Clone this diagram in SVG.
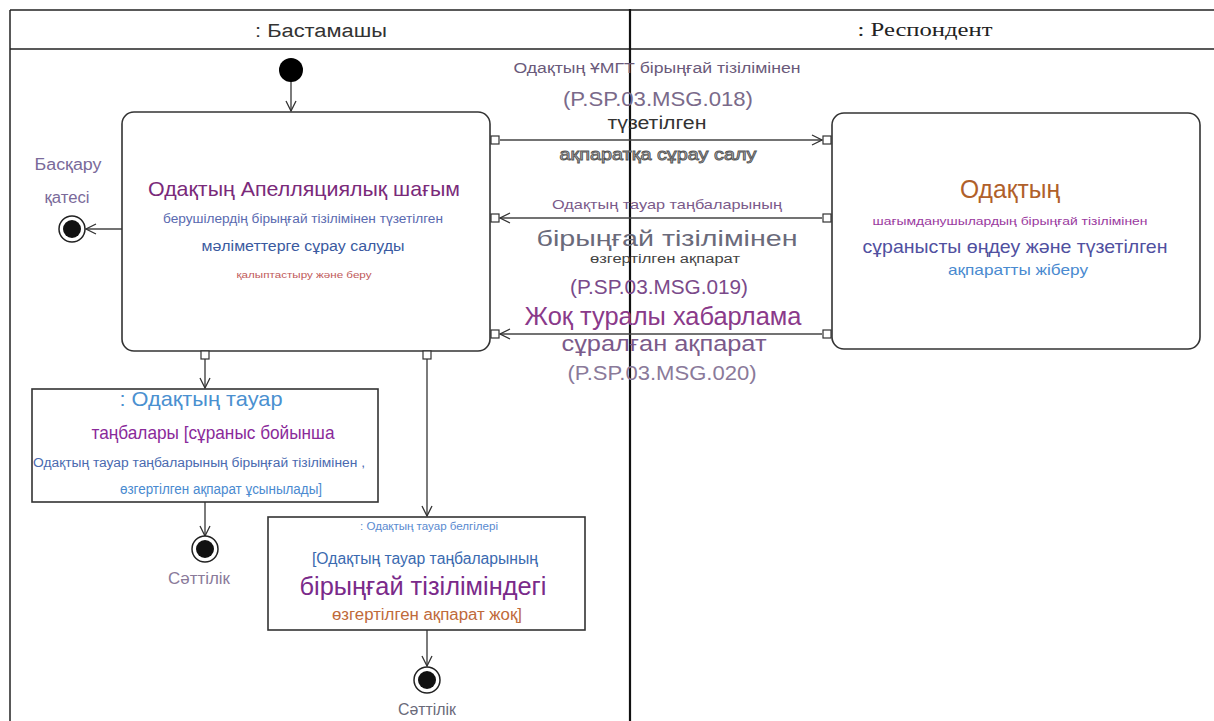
<svg xmlns="http://www.w3.org/2000/svg" width="1214" height="721" viewBox="0 0 1214 721">
<defs>
<marker id="arr" viewBox="0 0 12 12" refX="11" refY="6" markerWidth="12" markerHeight="12" markerUnits="userSpaceOnUse" orient="auto">
<path d="M1,1 L11,6 L1,11" fill="none" stroke="#333" stroke-width="1.3"/>
</marker>
</defs>
<style>
text{font-family:"Liberation Sans",Arial,sans-serif;text-anchor:middle}
.serif{font-family:"Liberation Serif","Times New Roman",serif}
.frame{fill:none;stroke:#222;stroke-width:1.5}
.box{fill:#fff;stroke:#333;stroke-width:1.6}
.port{fill:#fff;stroke:#333;stroke-width:1.2}
.flow{fill:none;stroke:#444;stroke-width:1.4;marker-end:url(#arr)}
.fin-o{fill:#fff;stroke:#222;stroke-width:1.5}
.fin-i{fill:#111}
</style>
<rect width="1214" height="721" fill="#fff"/>
<g id="lanes">
<line class="frame" x1="10" y1="10" x2="1214" y2="10"/>
<line class="frame" x1="10" y1="49" x2="1214" y2="49"/>
<line class="frame" x1="10" y1="10" x2="10" y2="721"/>
<line x1="630" y1="9" x2="630" y2="721" stroke="#111" stroke-width="2.2"/>
<text x="321" y="37" font-size="18" fill="#333" textLength="132" lengthAdjust="spacingAndGlyphs">: Бастамашы</text>
<text class="serif" x="925" y="36" font-size="18" fill="#222" textLength="135" lengthAdjust="spacingAndGlyphs">: Респондент</text>
</g>
<g id="connectors">
<line class="flow" x1="291" y1="81" x2="291" y2="111"/>
<line class="flow" x1="500" y1="140" x2="822" y2="140"/>
<line class="flow" x1="822" y1="218" x2="500" y2="218"/>
<line class="flow" x1="822" y1="334" x2="500" y2="334"/>
<line class="flow" x1="122" y1="229" x2="86" y2="229"/>
<line class="flow" x1="205" y1="359" x2="205" y2="388"/>
<line class="flow" x1="427" y1="359" x2="427" y2="516"/>
<line class="flow" x1="205" y1="502" x2="205" y2="536"/>
<line class="flow" x1="427" y1="630" x2="427" y2="666"/>
</g>
<g id="msg-labels">
<text x="657" y="73" font-size="14" fill="#6a5a7a" textLength="287" lengthAdjust="spacingAndGlyphs">Одақтың ҰМГТ бірыңғай тізілімінен</text>
<text x="658" y="106" font-size="21" fill="#7a6a8a" textLength="190" lengthAdjust="spacingAndGlyphs">(P.SP.03.MSG.018)</text>
<text x="657" y="129" font-size="18" fill="#333" textLength="99" lengthAdjust="spacingAndGlyphs">түзетілген</text>
<text x="658" y="160" font-size="17" fill="#ccc" stroke="#555" stroke-width="0.9" textLength="197" lengthAdjust="spacingAndGlyphs">ақпаратқа сұрау салу</text>
<text x="667" y="209" font-size="13" fill="#7a5a8a" textLength="230" lengthAdjust="spacingAndGlyphs">Одақтың тауар таңбаларының</text>
<text x="667" y="246" font-size="22" fill="#6a6a7a" textLength="261" lengthAdjust="spacingAndGlyphs">бірыңғай тізілімінен</text>
<text x="665" y="263" font-size="12" fill="#444" textLength="150" lengthAdjust="spacingAndGlyphs">өзгертілген ақпарат</text>
<text x="659" y="294" font-size="21" fill="#7a4a8a" textLength="178" lengthAdjust="spacingAndGlyphs">(P.SP.03.MSG.019)</text>
<text x="663" y="325" font-size="25" fill="#8a3a8a" textLength="277" lengthAdjust="spacingAndGlyphs">Жоқ туралы хабарлама</text>
<text x="664" y="351" font-size="22" fill="#7a5a8a" textLength="205" lengthAdjust="spacingAndGlyphs">сұралған ақпарат</text>
<text x="662" y="380" font-size="20" fill="#8a7a9a" textLength="189" lengthAdjust="spacingAndGlyphs">(P.SP.03.MSG.020)</text>
</g>
<g id="initial">
<circle cx="291" cy="70" r="12" fill="#000"/>
</g>
<g id="main-action">
<rect class="box" x="122" y="112" width="368" height="239" rx="12"/>
<rect class="port" x="491" y="136" width="8" height="8"/>
<rect class="port" x="491" y="214" width="8" height="8"/>
<rect class="port" x="491" y="330" width="8" height="8"/>
<rect class="port" x="201" y="351" width="8" height="8"/>
<rect class="port" x="423" y="351" width="8" height="8"/>
<text x="304" y="196" font-size="21" fill="#7a2a7a" textLength="312" lengthAdjust="spacingAndGlyphs">Одақтың Апелляциялық шағым</text>
<text x="303" y="223" font-size="12" fill="#5a6ab0" textLength="280" lengthAdjust="spacingAndGlyphs">берушілердің бірыңғай тізілімінен түзетілген</text>
<text x="303" y="251" font-size="14" fill="#3a5aa0" textLength="203" lengthAdjust="spacingAndGlyphs">мәліметтерге сұрау салуды</text>
<text x="304" y="278" font-size="9" fill="#c05a5a" textLength="135" lengthAdjust="spacingAndGlyphs">қалыптастыру және беру</text>
</g>
<g id="resp-action">
<rect class="box" x="832" y="113" width="368" height="236" rx="12"/>
<rect class="port" x="823" y="136" width="8" height="8"/>
<rect class="port" x="823" y="214" width="8" height="8"/>
<rect class="port" x="823" y="330" width="8" height="8"/>
<text x="1010" y="198" font-size="25" fill="#b0602a" textLength="100" lengthAdjust="spacingAndGlyphs">Одақтың</text>
<text x="1010" y="225" font-size="11" fill="#9a3aa0" textLength="275" lengthAdjust="spacingAndGlyphs">шағымданушылардың бірыңғай тізілімінен</text>
<text x="1015" y="253" font-size="19" fill="#5050a0" textLength="305" lengthAdjust="spacingAndGlyphs">сұранысты өңдеу және түзетілген</text>
<text x="1018" y="275" font-size="15" fill="#4a8ad0" textLength="140" lengthAdjust="spacingAndGlyphs">ақпаратты жіберу</text>
</g>
<g id="error-final">
<circle class="fin-o" cx="72" cy="229" r="13"/>
<circle class="fin-i" cx="72" cy="229" r="9"/>
<text x="68" y="170" font-size="16" fill="#7a6a9a" textLength="67" lengthAdjust="spacingAndGlyphs">Басқару</text>
<text x="67" y="203" font-size="16" fill="#7a6a9a" textLength="45" lengthAdjust="spacingAndGlyphs">қатесі</text>
</g>
<g id="box1">
<rect class="box" x="32" y="389" width="346" height="113"/>
<text x="201" y="406" font-size="21" fill="#4a90d0" textLength="163" lengthAdjust="spacingAndGlyphs">: Одақтың тауар</text>
<text x="213" y="439" font-size="19" fill="#8a2a9a" textLength="243" lengthAdjust="spacingAndGlyphs">таңбалары [сұраныс бойынша</text>
<text x="199" y="467" font-size="12" fill="#4a6ab0" textLength="332" lengthAdjust="spacingAndGlyphs">Одақтың тауар таңбаларының бірыңғай тізілімінен ,</text>
<text x="221" y="494" font-size="14" fill="#4a8ad0" textLength="202" lengthAdjust="spacingAndGlyphs">өзгертілген ақпарат ұсынылады]</text>
</g>
<g id="final1">
<circle class="fin-o" cx="205" cy="549" r="13"/>
<circle class="fin-i" cx="205" cy="549" r="9"/>
<text x="199" y="584" font-size="16" fill="#8a7a9a" textLength="62" lengthAdjust="spacingAndGlyphs">Сәттілік</text>
</g>
<g id="box2">
<rect class="box" x="268" y="517" width="317" height="113"/>
<text x="429" y="530" font-size="10" fill="#5a8ad0" textLength="138" lengthAdjust="spacingAndGlyphs">: Одақтың тауар белгілері</text>
<text x="425" y="564" font-size="16" fill="#3a6ab0" textLength="226" lengthAdjust="spacingAndGlyphs">[Одақтың тауар таңбаларының</text>
<text x="423" y="595" font-size="26" fill="#7a2a8a" textLength="247" lengthAdjust="spacingAndGlyphs">бірыңғай тізіліміндегі</text>
<text x="427" y="620" font-size="16" fill="#c06a3a" textLength="190" lengthAdjust="spacingAndGlyphs">өзгертілген ақпарат жоқ]</text>
</g>
<g id="final2">
<circle class="fin-o" cx="427" cy="680" r="13"/>
<circle class="fin-i" cx="427" cy="680" r="9"/>
<text x="427" y="715" font-size="16" fill="#6a6a7a" textLength="58" lengthAdjust="spacingAndGlyphs">Сәттілік</text>
</g>
</svg>
